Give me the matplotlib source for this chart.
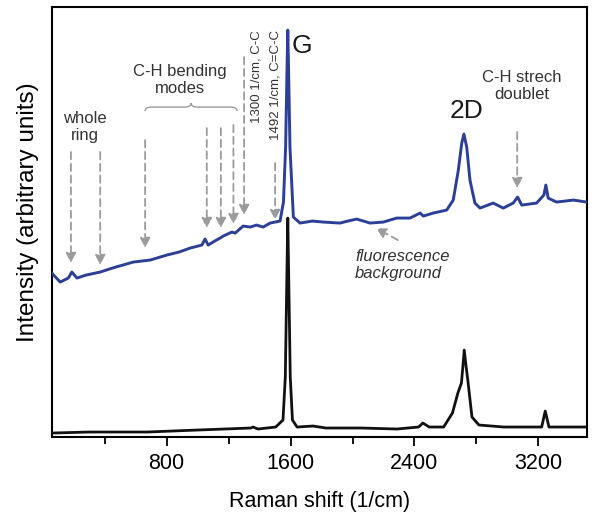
import numpy as np
import matplotlib
matplotlib.use("Agg")
import matplotlib.pyplot as plt
from matplotlib.path import Path
from matplotlib.patches import PathPatch

plt.rcParams["font.family"] = ["Liberation Sans", "DejaVu Sans"]

# blue spectrum (upper trace)
blue_x = [60, 70, 113, 165, 188, 221, 280, 371, 450, 584, 694, 801, 880, 952,
          1027, 1048, 1068, 1110, 1145, 1165, 1221, 1242, 1294, 1339, 1380, 1423,
          1468, 1532, 1554, 1568, 1576, 1582, 1588, 1596, 1618, 1661, 1740, 1812,
          1919, 1970, 2027, 2113, 2199, 2285, 2371, 2436, 2457, 2521, 2608, 2650,
          2683, 2705, 2719, 2737, 2758, 2790, 2823, 2908, 2973, 3037, 3066, 3092,
          3188, 3235, 3248, 3263, 3317, 3425, 3511]
blue_y = [164, 162, 155, 159, 165, 159, 162, 165, 169, 175, 177, 182, 185, 189,
          192, 198, 192, 196, 199, 201, 205, 204, 211, 210, 212, 210,
          214, 216, 235, 290, 360, 407, 360, 290, 220, 214, 216, 215,
          214, 216, 218, 214, 215, 219, 219, 224, 221, 224, 227, 237,
          267, 294, 303, 290, 257, 234, 229, 234, 229, 234, 240, 232,
          234, 242, 252, 239, 235, 237, 235]

# black spectrum (lower trace)
black_x = [65, 300, 674, 1000, 1343, 1358, 1390, 1504, 1551, 1566, 1575, 1582,
           1589, 1598, 1612, 1642, 1745, 1827, 2057, 2287, 2426, 2454, 2495, 2588,
           2645, 2680, 2703, 2712, 2721, 2732, 2744, 2771, 2816, 2977, 3221, 3244,
           3268, 3505]
black_y = [4, 5, 5, 7, 9, 10, 8, 10, 17, 60, 150, 219,
           150, 60, 17, 10, 11, 9, 9, 8, 10, 14, 10, 10,
           24, 44, 54, 70, 87, 72, 57, 20, 12, 10, 10, 26,
           10, 10]

# dashed marker arrows: (x, start y, tip y)
mark_arrows = [(182, 285, 174), (371, 285, 172), (661, 297, 189), (1059, 309, 209),
               (1150, 309, 209), (1231, 312, 213), (1300, 380, 222), (1500, 274, 217),
               (3063, 305, 249)]
fluor_arrow = ((2293, 197), (2151, 209))
brace_x = (661, 1255)
brace_y = 330

major_ticks = [800, 1600, 2400, 3200]
minor_ticks = [400, 1200, 2000, 2800]

BLUE = "#2c3f97"
GRAY = "#9b9b9b"
TXT = "#333333"

fig = plt.figure(figsize=(6.0, 5.23), dpi=100)
ax = fig.add_axes([0.0867, 0.1644, 0.892, 0.822])

ax.plot(blue_x, blue_y, color=BLUE, lw=2.1, zorder=3)
ax.plot(black_x, black_y, color="#111111", lw=2.0, zorder=3)

for x, y0, y1 in mark_arrows:
    ax.annotate("", xy=(x, y1), xytext=(x, y0),
                arrowprops=dict(arrowstyle="-|>,head_width=0.3,head_length=0.6",
                                color=GRAY, lw=1.3, linestyle=(0, (4, 2.5)),
                                shrinkA=0, shrinkB=0), zorder=2)
ax.annotate("", xy=fluor_arrow[1], xytext=fluor_arrow[0],
            arrowprops=dict(arrowstyle="-|>,head_width=0.3,head_length=0.6",
                            color=GRAY, lw=1.3, linestyle=(0, (4, 2.5)),
                            shrinkA=0, shrinkB=0), zorder=2)

# curly brace over the bending-mode arrows
x1, x2 = brace_x
xc = (x1 + x2) / 2
d, h = 40, 4
verts = [(x1, brace_y - h), (x1, brace_y), (x1 + d, brace_y),
         (xc - d, brace_y), (xc, brace_y), (xc, brace_y + h),
         (xc, brace_y), (xc + d, brace_y),
         (x2 - d, brace_y), (x2, brace_y), (x2, brace_y - h)]
codes = [Path.MOVETO, Path.CURVE3, Path.CURVE3, Path.LINETO, Path.CURVE3, Path.CURVE3,
         Path.CURVE3, Path.CURVE3, Path.LINETO, Path.CURVE3, Path.CURVE3]
ax.add_patch(PathPatch(Path(verts, codes), fill=False, ec=GRAY, lw=1.0))

ax.text(271, 310, "whole\nring", ha="center", va="center", fontsize=12, color=TXT,
        linespacing=1.1)
ax.text(887, 357, "C-H bending\nmodes", ha="center", va="center", fontsize=12,
        color=TXT, linespacing=1.1)
ax.text(1377, 407, "1300 1/cm, C-C", rotation=90, ha="center", va="top",
        fontsize=9.5, color=TXT)
ax.text(1505, 407, "1492 1/cm, C=C-C", rotation=90, ha="center", va="top",
        fontsize=9.5, color=TXT)
ax.text(1674, 391, "G", ha="center", va="center", fontsize=19, color="#1a1a1a")
ax.text(2736, 326, "2D", ha="center", va="center", fontsize=19, color="#1a1a1a")
ax.text(3092, 351, "C-H strech\ndoublet", ha="center", va="center", fontsize=12,
        color=TXT, linespacing=1.1)
ax.text(2016, 172, "fluorescence\nbackground", ha="left", va="center", fontsize=12,
        color=TXT, style="italic", linespacing=1.1)

ax.set_xlim(60, 3515)
ax.set_ylim(0, 430)
ax.set_xticks(major_ticks)
ax.set_xticks(minor_ticks, minor=True)
ax.set_yticks([])
ax.tick_params(axis="x", which="major", direction="out", length=6.7, width=1.3,
               labelsize=15.5, pad=5)
ax.tick_params(axis="x", which="minor", direction="out", length=4.8, width=1.3)
for s in ax.spines.values():
    s.set_linewidth(1.5)

ax.set_xlabel("Raman shift (1/cm)", fontsize=15.5, labelpad=12)
ax.set_ylabel("Intensity (arbitrary units)", fontsize=17.5)
ax.yaxis.set_label_coords(-0.024, 0.523)

fig.savefig("out.png", dpi=100)
